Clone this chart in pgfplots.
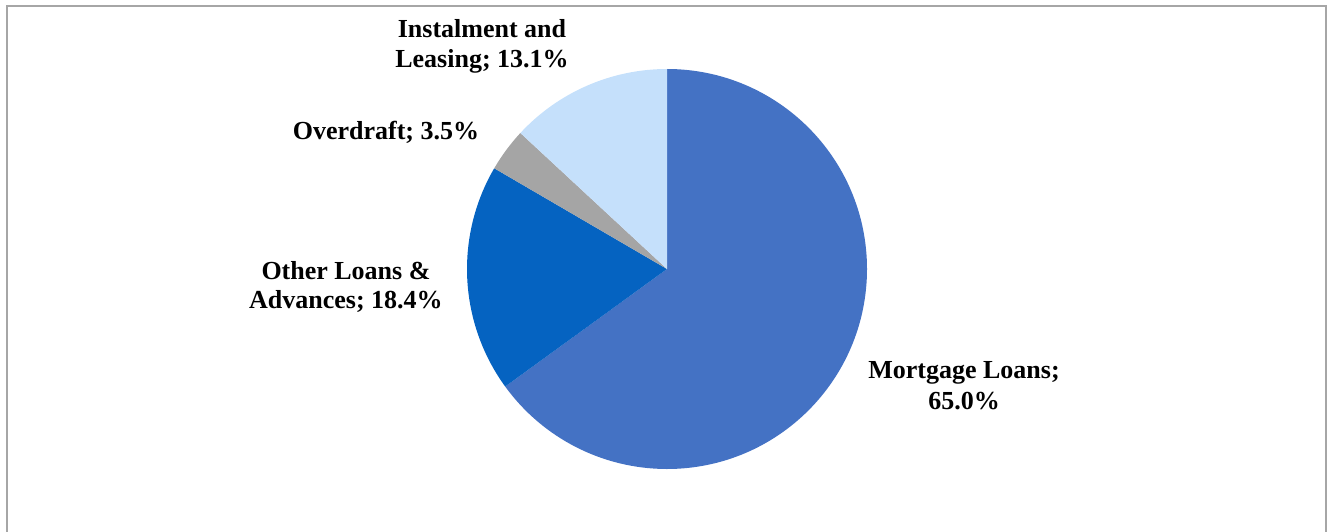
\documentclass[border=0pt]{standalone}
\usepackage{pgfplots}
\usepackage{pgfplotstable}
\pgfplotsset{compat=1.18}
\usepackage{fontspec}
\setmainfont{Liberation Serif}

\definecolor{cMort}{HTML}{4472C4}
\definecolor{cOther}{HTML}{0563C1}
\definecolor{cOver}{HTML}{A5A5A5}
\definecolor{cInst}{HTML}{C5E0FB}
\definecolor{cFrame}{HTML}{A6A6A6}

\tikzset{lbl/.style={anchor=base, inner sep=0pt, font=\fontsize{13}{15}\selectfont\bfseries}}

% shares in percent, clockwise from 12 o'clock
\pgfplotstableread{
name value
Mortgage 65.0
Other 18.4
Overdraft 3.5
Instalment 13.1
}\piedata

\begin{document}
\begin{tikzpicture}
\useasboundingbox (0,0) rectangle (663.5pt,265.5pt);

% angles of the slice edges
\pgfplotstablegetelem{0}{value}\of\piedata \pgfmathsetmacro\aA{90-3.6*\pgfplotsretval}
\pgfplotstablegetelem{1}{value}\of\piedata \pgfmathsetmacro\aB{\aA-3.6*\pgfplotsretval}
\pgfplotstablegetelem{2}{value}\of\piedata \pgfmathsetmacro\aC{\aB-3.6*\pgfplotsretval}
\pgfplotstablegetelem{3}{value}\of\piedata \pgfmathsetmacro\aD{\aC-3.6*\pgfplotsretval}

\begin{axis}[
	at={(0,0)}, anchor=south west,
	x=0.5pt, y=0.5pt,
	xmin=0, xmax=1327, ymin=0, ymax=531,
	enlargelimits=false,
	hide axis, clip=false,
	]
	% frame
	\draw[cFrame, line width=0.75pt] (axis cs:7,-20) -- (axis cs:7,525) -- (axis cs:1326,525) -- (axis cs:1326,-20);

	% slices
	\fill[cMort]  (axis cs:667,262) -- ++(90:100pt)  arc[start angle=90,  end angle=\aA, radius=100pt] -- cycle;
	\fill[cOther] (axis cs:667,262) -- ++(\aA:100pt) arc[start angle=\aA, end angle=\aB, radius=100pt] -- cycle;
	\fill[cOver]  (axis cs:667,262) -- ++(\aB:100pt) arc[start angle=\aB, end angle=\aC, radius=100pt] -- cycle;
	\fill[cInst]  (axis cs:667,262) -- ++(\aC:100pt) arc[start angle=\aC, end angle=\aD, radius=100pt] -- cycle;

	% data labels
	\node[lbl] at (axis cs:482,493) {Instalment and};
	\node[lbl] at (axis cs:482,463) {Leasing; 13.1\%};
	\node[lbl] at (axis cs:386,391) {Overdraft; 3.5\%};
	\node[lbl] at (axis cs:346,252) {Other Loans \&};
	\node[lbl] at (axis cs:346,223) {Advances; 18.4\%};
	\node[lbl] at (axis cs:964,153) {Mortgage Loans;};
	\node[lbl] at (axis cs:964,122) {65.0\%};
\end{axis}
\end{tikzpicture}
\end{document}
